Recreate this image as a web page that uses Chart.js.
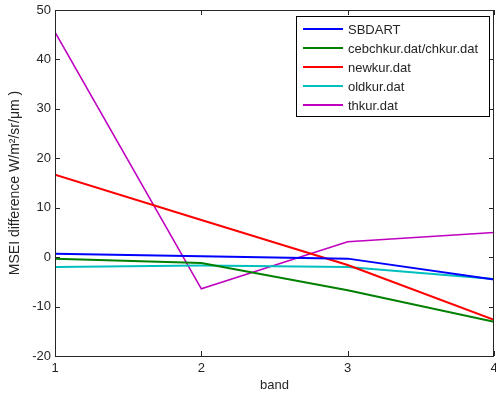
<!DOCTYPE html>
<html>
<head>
<meta charset="utf-8">
<script src="https://cdn.jsdelivr.net/npm/chart.js@4/dist/chart.umd.min.js"></script>
<style>
  html, body { margin: 0; padding: 0; background: #fff; }
  #wrap { width: 496px; height: 398px; }
</style>
</head>
<body>
<div id="wrap"><canvas id="c" width="496" height="398"></canvas></div>
<script>
// data
const bands = [1, 2, 3, 4];
const seriesNames = ['SBDART', 'cebchkur.dat/chkur.dat', 'newkur.dat', 'oldkur.dat', 'thkur.dat'];
const sbdart = [0.7, 0.2, -0.3, -4.5];
const chkur = [-0.3, -1.2, -6.7, -13.1];
const newkur = [16.7, 7.5, -1.6, -12.7];
const oldkur = [-2.0, -1.7, -2.0, -4.4];
const thkur = [45.5, -6.4, 3.1, 5.0];
const seriesColors = ['#0000ff', '#008000', '#ff0000', '#00bfbf', '#bf00bf'];
const xTicks = [1, 2, 3, 4];
const yTicks = [-20, -10, 0, 10, 20, 30, 40, 50];

const allSeries = [sbdart, chkur, newkur, oldkur, thkur];

Chart.defaults.font.family = "'Liberation Sans', Arial, sans-serif";
Chart.defaults.font.size = 13;
Chart.defaults.color = '#262626';

// 枠線と内向きの目盛り
const frameTicks = {
  id: 'frameTicks',
  afterDatasetsDraw(chart) {
    const { ctx, chartArea: a, scales } = chart;
    ctx.save();
    ctx.strokeStyle = '#262626';
    ctx.lineWidth = 1;
    const L = 5;
    ctx.beginPath();
    xTicks.forEach(v => {
      const px = Math.round(scales.x.getPixelForValue(v)) + 0.5;
      ctx.moveTo(px, a.bottom); ctx.lineTo(px, a.bottom - L);
      ctx.moveTo(px, a.top); ctx.lineTo(px, a.top + L);
    });
    yTicks.forEach(v => {
      const py = Math.round(scales.y.getPixelForValue(v)) + 0.5;
      ctx.moveTo(a.left, py); ctx.lineTo(a.left + L, py);
      ctx.moveTo(a.right, py); ctx.lineTo(a.right - L, py);
    });
    ctx.stroke();
    ctx.strokeRect(Math.round(a.left) + 0.5, Math.round(a.top) + 0.5,
      Math.round(a.right - a.left) - 1, Math.round(a.bottom - a.top));
    ctx.restore();
  }
};

// 凡例 (プロット内の右上)
const boxLegend = {
  id: 'boxLegend',
  afterDraw(chart) {
    const { ctx } = chart;
    const x0 = 296, y0 = 16, w = 193, h = 100;
    ctx.save();
    ctx.fillStyle = '#fff';
    ctx.fillRect(x0, y0, w, h);
    ctx.strokeStyle = '#000';
    ctx.lineWidth = 1;
    ctx.strokeRect(x0 + 0.5, y0 + 0.5, w, h);
    ctx.font = "13px 'Liberation Sans', Arial, sans-serif";
    ctx.textBaseline = 'middle';
    chart.data.datasets.forEach((ds, i) => {
      const yy = y0 + 13 + i * 19;
      ctx.strokeStyle = ds.borderColor;
      ctx.lineWidth = 2;
      ctx.beginPath();
      ctx.moveTo(x0 + 7, yy); ctx.lineTo(x0 + 47, yy);
      ctx.stroke();
      ctx.fillStyle = '#262626';
      ctx.fillText(ds.label, x0 + 52, yy + 1);
    });
    ctx.restore();
  }
};

new Chart(document.getElementById('c'), {
  type: 'line',
  data: {
    datasets: allSeries.map((vals, i) => ({
      label: seriesNames[i],
      data: bands.map((b, j) => ({ x: b, y: vals[j] })),
      borderColor: seriesColors[i],
      backgroundColor: seriesColors[i],
      borderWidth: i === 4 ? 1.6 : 2,
      pointRadius: 0,
      tension: 0,
      fill: false
    }))
  },
  options: {
    responsive: false,
    animation: false,
    layout: { padding: { top: 10, right: 2, left: 0, bottom: 0 } },
    plugins: {
      legend: { display: false },
      tooltip: { enabled: false }
    },
    scales: {
      x: {
        type: 'linear',
        min: 1,
        max: 4,
        afterBuildTicks: s => { s.ticks = xTicks.map(v => ({ value: v })); },
        afterFit: s => { s.height = 42; s.paddingLeft = 0; s.paddingRight = 0; },
        grid: { display: false, drawTicks: false },
        border: { display: false },
        ticks: { padding: 5, color: '#262626' },
        title: { display: true, text: 'band', color: '#262626', padding: { top: 0, bottom: 5 } }
      },
      y: {
        type: 'linear',
        min: -20,
        max: 50,
        afterBuildTicks: s => { s.ticks = yTicks.map(v => ({ value: v })); },
        afterFit: s => { s.width = 55; s.paddingTop = 0; s.paddingBottom = 0; },
        grid: { display: false, drawTicks: false },
        border: { display: false },
        ticks: { padding: 4, color: '#262626' },
        title: { display: true, text: 'MSEI difference W/m²/sr/μm )', color: '#262626', padding: { top: 7, bottom: 0 }, font: { size: 14 } }
      }
    }
  },
  plugins: [frameTicks, boxLegend]
});
</script>
</body>
</html>
